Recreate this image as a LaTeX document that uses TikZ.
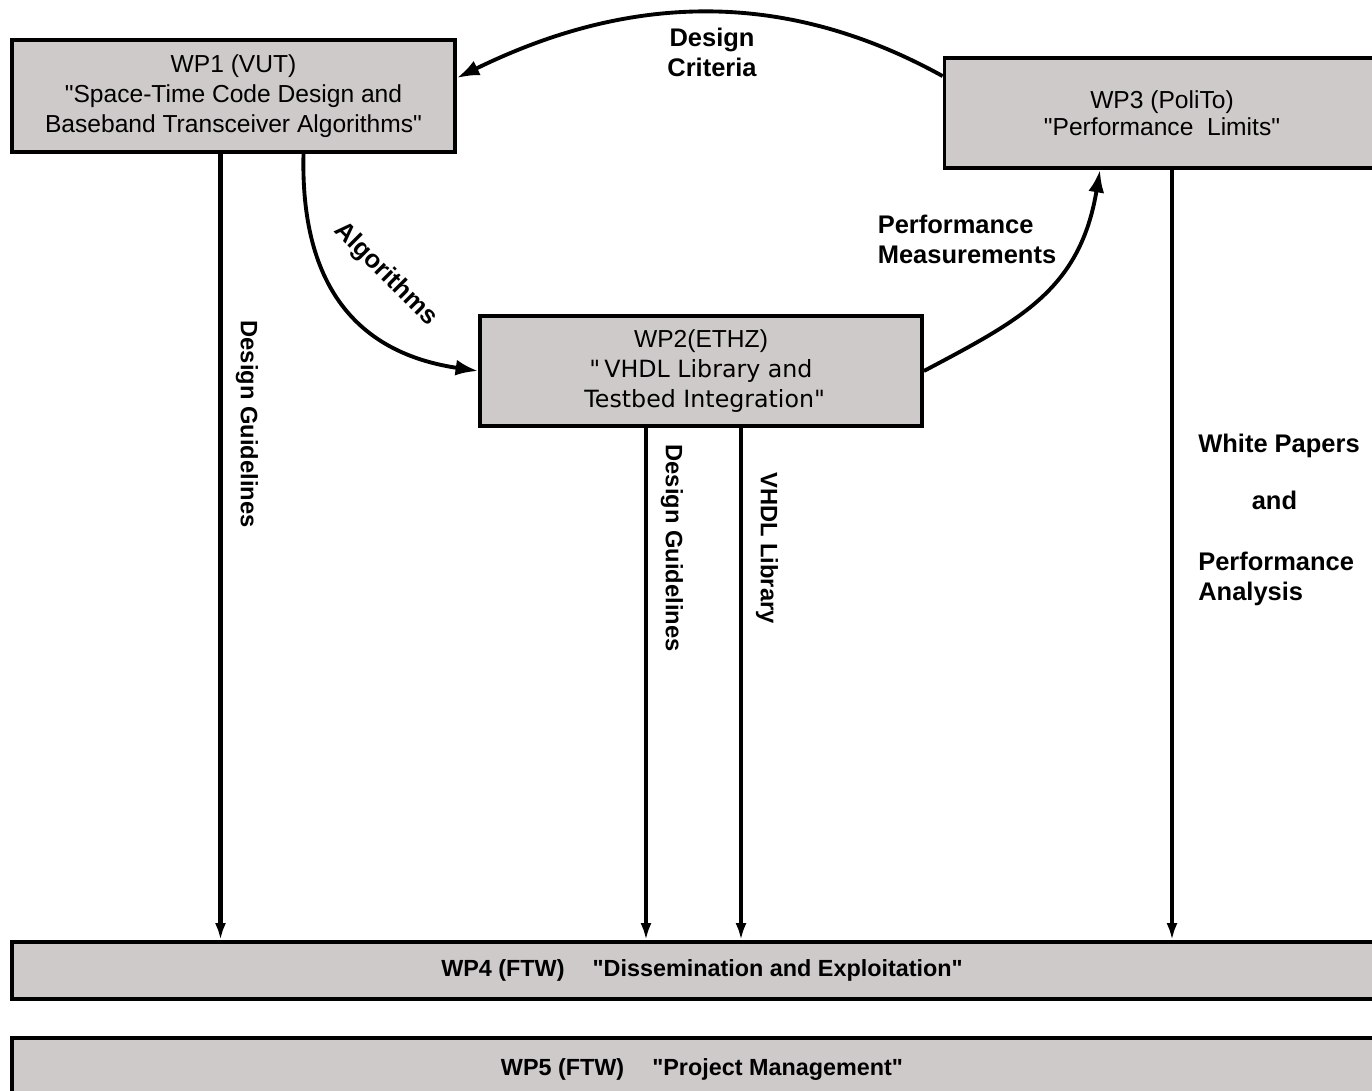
\documentclass[tikz,border=0pt]{standalone}
\usepackage{fontspec}
\setmainfont{Liberation Sans}
\newfontfamily\wpfont{DejaVu Sans}
\usepackage{tikz}
\usetikzlibrary{calc}
\usetikzlibrary{arrows.meta,positioning}
\definecolor{black}{RGB}{0,0,0}
\definecolor{boxgrey}{RGB}{206,202,202}
\newcommand{\qq}{\textquotedbl}
\tikzset{
  wpbox/.style={draw=black, fill=boxgrey, line width=2.2pt, rectangle, inner sep=0pt, align=center, font=\fontsize{14}{17}\selectfont},
  barbox/.style={draw=black, fill=boxgrey, line width=2.2pt, rectangle, inner sep=0pt, minimum width=27.6cm, font=\bfseries\fontsize{13.3}{16}\selectfont},
  flow/.style={line width=2.4pt, -{Latex[length=0.34cm,width=0.22cm]}},
  curveflow/.style={line width=2.2pt, -{Latex[length=0.45cm,width=0.32cm]}},
  lbl/.style={font=\bfseries\fontsize{14.5}{17}\selectfont, inner sep=0pt},
  sidelbl/.style={font=\bfseries\fontsize{13.5}{16}\selectfont, inner sep=0pt, rotate=-90}
}

\begin{document}
\begin{tikzpicture}[x=0.02cm,y=-0.02cm]
\clip (0,0) rectangle (1372,1091);

%work packages
\node [wpbox,minimum width=8.86cm,minimum height=2.24cm] (wp1) at (233.5,96) {WP1 (VUT)\\\qq Space-Time Code Design and\\Baseband Transceiver Algorithms\qq};

\node [wpbox,minimum width=8.7cm,minimum height=2.2cm,font=\fontsize{14}{15.5}\selectfont] (wp3) at (1162,113) {WP3 (PoliTo)\\\qq Performance\ \ Limits\qq};

\node [wpbox,minimum width=8.84cm,minimum height=2.2cm] (wp2) at (701,371) {WP2(ETHZ)\\{\wpfont\fontsize{13.5}{17}\selectfont \qq\,VHDL Library and}\\{\wpfont\fontsize{13.5}{17}\selectfont \ Testbed Integration\qq}};

\node [barbox,minimum height=1.14cm] (wp4) at (702,970.5) {WP4 (FTW)\hspace{1.2em}\qq Dissemination and Exploitation\qq};

\node [barbox,minimum height=1.24cm] (wp5) at (702,1069) {WP5 (FTW)\hspace{1.2em}\qq Project Management\qq};

%curved links
\draw [curveflow] ($(wp3.north west)+(0,20)$) .. controls (760,-25) and (600,8) .. ($(wp1.east)+(0,-18)$);
\draw [curveflow] ($(wp1.south)+(70,0)$) .. controls (300,300) and (370,355) .. (wp2.west);
\draw [curveflow] (wp2.east) .. controls (1020,320) and (1080,290) .. ($(wp3.south)+(-62,0)$);

%down to WP4
\draw [flow] ($(wp1.south)+(-13,0)$) coordinate (d1) -- (d1 |- wp4.north);
\draw [flow] ($(wp2.south)+(-55,0)$) coordinate (d2) -- (d2 |- wp4.north);
\draw [flow] ($(wp2.south)+(40,0)$) coordinate (d3) -- (d3 |- wp4.north);
\draw [flow] ($(wp3.south)+(10,0)$) coordinate (d4) -- (d4 |- wp4.north);

%labels
\node [lbl,align=center] (crit) at (712,52) {Design\\Criteria};
\node [lbl,rotate=-45] (alg) at (386,274) {Algorithms};
\node [lbl,align=left] (meas) at (967,239) {Performance\\Measurements};
\node [sidelbl] (guide1) at (247,424) {Design Guidelines};
\node [sidelbl] (guide2) at (672,548) {Design Guidelines};
\node [sidelbl] (vhdl) at (767,548) {VHDL Library};
\node [lbl,align=left] (papers) at (1279,520) {White Papers\\[15pt]\hspace*{2.1em}and\\[18pt]Performance\\Analysis};

\end{tikzpicture}
\end{document}
